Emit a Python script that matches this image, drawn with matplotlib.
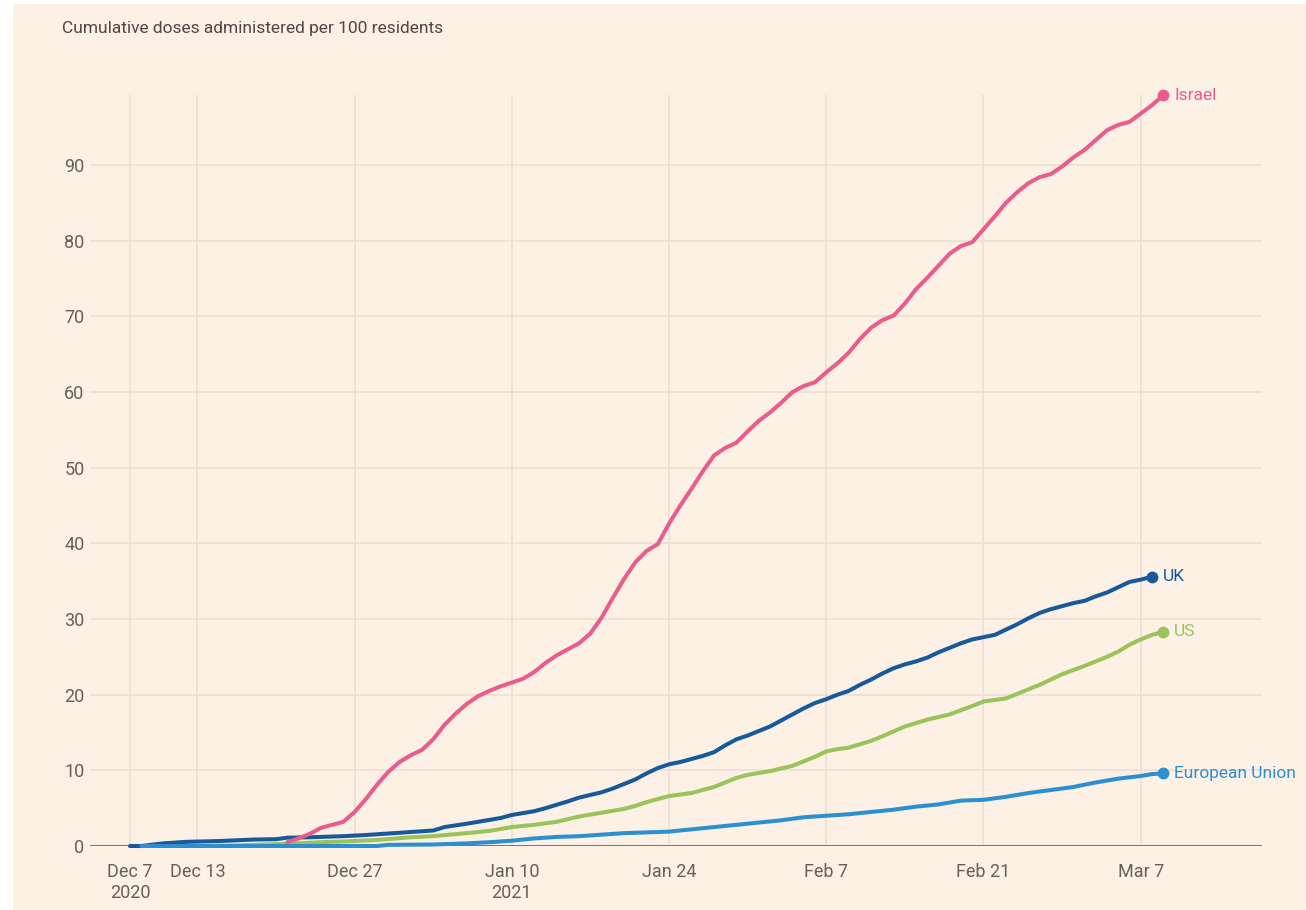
# Vaccine doses per 100 residents - FT style line chart
import pandas as pd
import matplotlib.pyplot as plt
from matplotlib.patches import Rectangle

plt.rcParams["font.family"] = ["Roboto", "DejaVu Sans"]

# ---- data (day offsets from 7 Dec 2020, cumulative doses per 100) ----
start = pd.Timestamp("2020-12-07")

israel_days = list(range(14, 93))
israel_vals = [0.5, 1.0, 1.6, 2.4, 2.8, 3.2, 4.5, 6.2, 8.1, 9.8,
               11.1, 12.0, 12.7, 14.1, 16.0, 17.5, 18.8, 19.8, 20.5, 21.1,
               21.6, 22.1, 23.0, 24.2, 25.2, 26.0, 26.8, 28.1, 30.2, 32.8,
               35.3, 37.5, 39.0, 39.9, 42.6, 45.0, 47.2, 49.5, 51.6, 52.6,
               53.3, 54.8, 56.2, 57.3, 58.6, 60.0, 60.8, 61.3, 62.6, 63.8,
               65.2, 67.0, 68.5, 69.5, 70.1, 71.7, 73.6, 75.1, 76.7, 78.3,
               79.3, 79.8, 81.5, 83.2, 85.0, 86.4, 87.6, 88.4, 88.8, 89.8,
               91.0, 92.0, 93.3, 94.6, 95.3, 95.7, 96.8, 97.9, 99.2]

uk_days = [0, 1, 3, 5, 8, 11, 13, 14, 16, 19, 21, 23, 25, 27, 28, 30, 31, 33,
           34, 36, 37, 39, 40, 42, 43, 44, 45, 46, 47, 48, 49, 50, 51, 52, 53,
           54, 55, 56, 57, 58, 59, 60, 61, 62, 63, 64, 65, 66, 67, 68, 69, 70,
           71, 72, 73, 74, 75, 76, 77, 78, 79, 80, 81, 82, 83, 84, 85, 86, 87,
           88, 89, 90, 91]
uk_vals = [0, 0.0, 0.35, 0.55, 0.66, 0.85, 0.9, 1.1, 1.15, 1.3, 1.45, 1.65,
           1.85, 2.05, 2.5, 2.95, 3.2, 3.7, 4.1, 4.6, 5.0, 5.9, 6.4, 7.1, 7.6,
           8.2, 8.8, 9.6, 10.3, 10.8, 11.1, 11.5, 11.9, 12.4, 13.3, 14.1, 14.6,
           15.2, 15.8, 16.6, 17.4, 18.2, 18.9, 19.4, 20.0, 20.5, 21.3, 22.0,
           22.8, 23.5, 24.0, 24.4, 24.9, 25.6, 26.2, 26.8, 27.3, 27.6, 27.9,
           28.6, 29.3, 30.1, 30.8, 31.3, 31.7, 32.1, 32.4, 33.0, 33.5, 34.2,
           34.9, 35.2, 35.6]

us_days = [7, 10, 14, 17, 19, 22, 25, 27, 30, 32, 34, 36, 38, 40, 42, 44, 45,
           46, 48, 50, 52, 54, 55, 57, 59, 61, 62, 63, 64, 66, 67, 69, 71, 73,
           75, 76, 78, 80, 81, 83, 85, 87, 88, 89, 90, 91, 92]
us_vals = [0, 0.1, 0.3, 0.5, 0.6, 0.8, 1.15, 1.3, 1.7, 2.0, 2.5, 2.8, 3.2,
           3.9, 4.4, 4.9, 5.3, 5.8, 6.6, 7.0, 7.8, 9.0, 9.4, 9.9, 10.6, 11.8,
           12.5, 12.8, 13.0, 13.9, 14.5, 15.8, 16.7, 17.4, 18.5, 19.1, 19.5,
           20.7, 21.3, 22.7, 23.8, 25.0, 25.7, 26.6, 27.3, 27.9, 28.3]

eu_days = [1, 22, 23, 27, 30, 32, 34, 36, 38, 40, 42, 44, 46, 48, 50, 52, 54,
           56, 58, 60, 62, 64, 66, 68, 70, 72, 74, 76, 78, 80, 82, 84, 86, 88,
           90, 91, 92]
eu_vals = [0, 0, 0.15, 0.2, 0.35, 0.5, 0.7, 1.0, 1.2, 1.3, 1.5, 1.7, 1.8, 1.9,
           2.2, 2.5, 2.8, 3.1, 3.4, 3.8, 4.0, 4.2, 4.5, 4.8, 5.2, 5.5, 6.0, 6.1,
           6.5, 7.0, 7.4, 7.8, 8.4, 8.9, 9.25, 9.5, 9.6]

# drawing order: later entries sit on top
series = [
    ("UK", uk_days, uk_vals, "#165a9c"),
    ("US", us_days, us_vals, "#99c45a"),
    ("European Union", eu_days, eu_vals, "#2c90d0"),
    ("Israel", israel_days, israel_vals, "#e85d8c"),
]

tick_dates = ["2020-12-07", "2020-12-13", "2020-12-27", "2021-01-10",
              "2021-01-24", "2021-02-07", "2021-02-21", "2021-03-07"]
tick_labels = ["Dec 7\n2020", "Dec 13", "Dec 27", "Jan 10\n2021",
               "Jan 24", "Feb 7", "Feb 21", "Mar 7"]
y_ticks = [0, 10, 20, 30, 40, 50, 60, 70, 80, 90]

# ---- figure ----
bg = "#fdf0e5"
grid_c = "#ebdfd3"
text_c = "#66605c"

fig = plt.figure(figsize=(13.06, 9.10), dpi=100, facecolor="white")
fig.patches.append(Rectangle((13 / 1306, 0), 1, 1 - 4 / 910,
                             transform=fig.transFigure, facecolor=bg,
                             edgecolor="none", zorder=-10))

ax = fig.add_axes([90 / 1306, 64 / 910, 1172 / 1306, 751 / 910])
ax.set_facecolor(bg)
ax.patch.set_alpha(0)

for name, days, vals, color in series:
    dates = start + pd.to_timedelta(days, unit="D")
    ax.plot(dates, vals, color=color, lw=2.9, solid_capstyle="round",
            solid_joinstyle="round", clip_on=False, zorder=3)
    ax.plot(dates[-1], vals[-1], "o", color=color, markersize=7.5,
            clip_on=False, zorder=4)
    ax.annotate(name, (dates[-1], vals[-1]), xytext=(8, 0),
                textcoords="offset points", va="center", ha="left",
                color=color, fontsize=12.5, annotation_clip=False)

ax.axhline(0, color=text_c, lw=1.9, zorder=2)

ax.set_xlim(start - pd.Timedelta(days=3.56), start + pd.Timedelta(days=100.8))
ax.set_ylim(0, 99.25)

ax.set_xticks(pd.to_datetime(tick_dates))
ax.set_xticklabels(tick_labels)
ax.set_yticks(y_ticks)
ax.tick_params(axis="both", length=0, labelsize=13, labelcolor=text_c)
ax.tick_params(axis="x", pad=12)
ax.tick_params(axis="y", pad=4)
for lab in ax.get_xticklabels():
    lab.set_linespacing(1.25)

ax.grid(True, color=grid_c, lw=1.2, zorder=0)
ax.set_axisbelow(True)
for s in ax.spines.values():
    s.set_visible(False)

fig.text(62 / 1306, 1 - 28 / 910, "Cumulative doses administered per 100 residents",
         fontsize=12.5, color="#4d4845", va="center", ha="left")

fig.savefig("out.png", dpi=100, facecolor=fig.get_facecolor())
